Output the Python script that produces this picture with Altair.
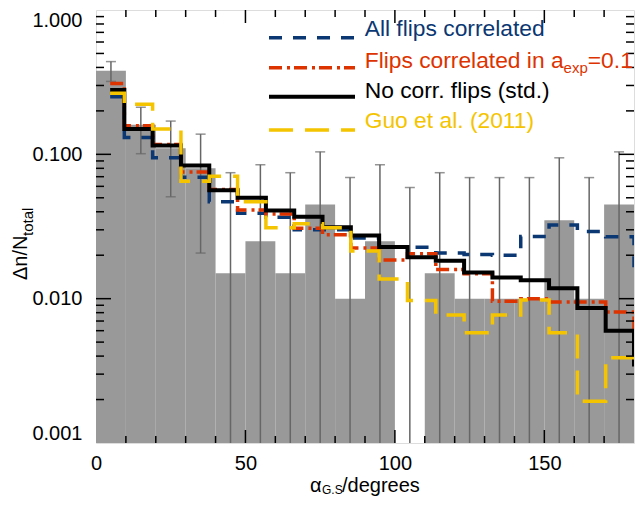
import altair as alt
import pandas as pd

# ---------------- data ----------------
# gray histogram (10-degree bins)
bin_lo = [0, 10, 20, 30, 40, 50, 60, 70, 80, 90, 100, 110, 120, 130, 140, 150, 160, 170]
bin_hi = [10, 20, 30, 40, 50, 60, 70, 80, 90, 100, 110, 120, 130, 140, 150, 160, 170, 180]
bin_mid = [5, 15, 25, 35, 45, 55, 65, 75, 85, 95, 105, 115, 125, 135, 145, 155, 165, 175]
hist_val = [0.38, 0.16, 0.11, 0.08, 0.015, 0.025, 0.015, 0.045, 0.010, 0.025,
            0.0, 0.015, 0.010, 0.010, 0.010, 0.035, 0.010, 0.045]
err_top = [0.439, 0.212, 0.170, 0.138, 0.0746, 0.0847, 0.0746, 0.104, 0.069, 0.0847,
           0.0589, 0.0746, 0.069, 0.069, 0.069, 0.0946, 0.069, 0.104]
err_bot = [0.320, 0.101, 0.0508, 0.0207, 0, 0, 0, 0, 0, 0,
           0, 0, 0, 0, 0, 0, 0, 0]

# step-line model curves (bin centres; last point lies beyond 180 and is clipped)
line_x = [4.74, 14.21, 23.68, 33.16, 42.63, 52.11, 61.58, 71.05, 80.53, 90.0,
          99.47, 108.95, 118.42, 127.89, 137.37, 146.84, 156.32, 165.79, 175.26, 184.74]
all_flips = [0.251, 0.131, 0.0946, 0.0693, 0.0469, 0.039, 0.0366, 0.030, 0.030, 0.0263,
             0.0227, 0.0227, 0.0207, 0.0202, 0.0200, 0.0270, 0.0324, 0.0292, 0.0268, 0.017]
flips_aexp = [0.310, 0.158, 0.117, 0.0754, 0.057, 0.0411, 0.0386, 0.0308, 0.0277, 0.0224,
              0.0185, 0.0205, 0.0159, 0.0149, 0.0096, 0.0100, 0.0095, 0.0095, 0.0081, 0.0045]
no_corr = [0.279, 0.150, 0.115, 0.0838, 0.0564, 0.050, 0.0409, 0.037, 0.0313, 0.0274,
           0.0228, 0.0194, 0.0183, 0.0152, 0.0140, 0.0134, 0.0118, 0.0086, 0.0060, 0.0035]
guo = [0.265, 0.222, 0.150, 0.065, 0.0704, 0.047, 0.031, 0.033, 0.031, 0.0214,
       0.0137, 0.0097, 0.0077, 0.0058, 0.0077, 0.0098, 0.0058, 0.00195, 0.0039, 0.0039]

x_major = [50, 100, 150]
x_minor = [10, 20, 30, 40, 60, 70, 80, 90, 110, 120, 130, 140, 160, 170]
y_major = [0.01, 0.1]
y_minor = [m * 10.0 ** e for e in (-3, -2, -1) for m in range(2, 10)]

x_labels = [0, 50, 100, 150]
y_labels = [0.001, 0.01, 0.1, 1.0]

# ---------------- layout / style ----------------
PL, PT = 96, 10          # plot-area origin on the page
W, H = 538, 433
PAD = {"left": PL - 8, "top": PT - 8, "right": 2, "bottom": 53}
FONT = "Liberation Sans"
BLUE, RED, BLACK, GOLD = "#0b3772", "#dd3300", "#000000", "#f5c400"
GRAY, ERRC = "#999999", "#666666"


def rx(px):
    return px - PL


def ry(py):
    return py - PT


xs = alt.Scale(domain=[0, 180], nice=False, zero=False)
ys = alt.Scale(type="log", domain=[0.001, 1.0], nice=False)
xaxis = alt.Axis(values=x_labels, format="d", title=None, ticks=False, domain=False,
                 grid=False, labelFontSize=20, labelFont=FONT, labelColor="black",
                 labelPadding=10, labelFlush=False, labelAngle=0)
yaxis = alt.Axis(values=y_labels, format=".3f", title=None, ticks=False, domain=False,
                 grid=False, labelFontSize=20, labelFont=FONT, labelColor="black",
                 labelPadding=14, labelFlush=True)


def X(f):
    return alt.X(f, type="quantitative", scale=xs, axis=xaxis)


def Y(f):
    return alt.Y(f, type="quantitative", scale=ys, axis=yaxis)


hist_df = pd.DataFrame({"lo": bin_lo, "hi": bin_hi, "mid": bin_mid, "val": hist_val,
                        "top": err_top, "bot": err_bot})
hist_df["bot"] = hist_df["bot"].where(hist_df["bot"] > 0.001, 0.001)

bars = alt.Chart(hist_df[hist_df["val"] > 0]).mark_rect(color=GRAY).encode(
    x=X("lo"), x2="hi", y=Y("val"), y2=alt.value(H))

err_lines = alt.Chart(hist_df).mark_rule(color=ERRC, strokeWidth=1.5).encode(
    x=X("mid"), y=Y("top"), y2="bot")
cap_top = alt.Chart(hist_df).mark_tick(orient="horizontal", size=10, thickness=1.5,
                                        color=ERRC).encode(x=X("mid"), y=Y("top"))
cap_bot = alt.Chart(hist_df[hist_df["bot"] > 0.001]).mark_tick(
    orient="horizontal", size=10, thickness=1.5, color=ERRC).encode(x=X("mid"), y=Y("bot"))


def step_line(vals, color, width, dash=None):
    df = pd.DataFrame({"x": line_x, "v": vals})
    kw = dict(interpolate="step", color=color, strokeWidth=width, clip=True, strokeCap="butt")
    if dash:
        kw["strokeDash"] = dash
    return alt.Chart(df).mark_line(**kw).encode(x=X("x"), y=Y("v"))


l_blue = step_line(all_flips, BLUE, 3.5, [13, 11])
l_red = step_line(flips_aexp, RED, 3.5, [13, 5, 3, 4])
l_black = step_line(no_corr, BLACK, 4)
l_gold = step_line(guo, GOLD, 3.5, [24, 12])


# inward tick marks on all four sides
def yticks(vals, length):
    df = pd.DataFrame({"v": vals})
    left = alt.Chart(df).mark_rule(color="black", strokeWidth=1.5).encode(
        y=Y("v"), x=alt.value(0), x2=alt.value(length))
    right = alt.Chart(df).mark_rule(color="black", strokeWidth=1.5).encode(
        y=Y("v"), x=alt.value(W - length), x2=alt.value(W))
    return left + right


def xticks(vals, length):
    df = pd.DataFrame({"v": vals})
    bottom = alt.Chart(df).mark_rule(color="black", strokeWidth=1.5).encode(
        x=X("v"), y=alt.value(H - length), y2=alt.value(H))
    top = alt.Chart(df).mark_rule(color="black", strokeWidth=1.5).encode(
        x=X("v"), y=alt.value(0), y2=alt.value(length))
    return bottom + top


ticks = yticks(y_major, 15) + yticks(y_minor, 8) + xticks(x_major, 13) + xticks(x_minor, 7)

one = pd.DataFrame({"k": [0]})


def leg_line(py, color, width, dash=None):
    kw = dict(color=color, strokeWidth=width, strokeCap="butt")
    if dash:
        kw["strokeDash"] = dash
    return alt.Chart(one).mark_rule(**kw).encode(
        x=alt.value(rx(269)), x2=alt.value(rx(355)), y=alt.value(ry(py)))


def txt(s, px, py, size, color="black", angle=0):
    kw = dict(text=s, font=FONT, fontSize=size, color=color, align="left",
              baseline="alphabetic")
    if angle:
        kw["angle"] = angle
    return alt.Chart(one).mark_text(**kw).encode(x=alt.value(rx(px)), y=alt.value(ry(py)))


LF = 22.8
legend = (
    leg_line(37.7, BLUE, 3.5, [13, 11]) + txt("All flips correlated", 364.7, 35.7, LF, BLUE)
    + leg_line(67.7, RED, 3.5, [13, 5, 3, 4])
    + txt("Flips correlated in a", 364.7, 67.7, LF, RED)
    + txt("exp", 563.6, 73.2, 15, RED) + txt("=0.1", 587.8, 67.7, LF, RED)
    + leg_line(96.7, BLACK, 4) + txt("No corr. flips (std.)", 364.7, 97.7, LF, BLACK)
    + leg_line(130, GOLD, 3.5, [24, 12]) + txt("Guo et al. (2011)", 364.7, 128.3, LF, GOLD)
)

titles = (
    txt("Δn/N", 26.7, 280, 20, angle=270) + txt("total", 33, 236, 15, angle=270)
    + txt("α", 310, 491.5, 20) + txt("G.S", 322, 493.5, 12) + txt("/degrees", 342, 491.5, 20)
)

chart = alt.layer(
    bars, err_lines, cap_top, cap_bot, l_blue, l_red, l_black, l_gold, ticks, legend, titles
).properties(
    width=W, height=H,
    autosize=alt.AutoSizeParams(type="none"),
    padding=PAD,
).configure_view(stroke="black", strokeWidth=2).configure(font=FONT)

chart.save("out.html", embed_options={"renderer": "svg", "actions": False})
